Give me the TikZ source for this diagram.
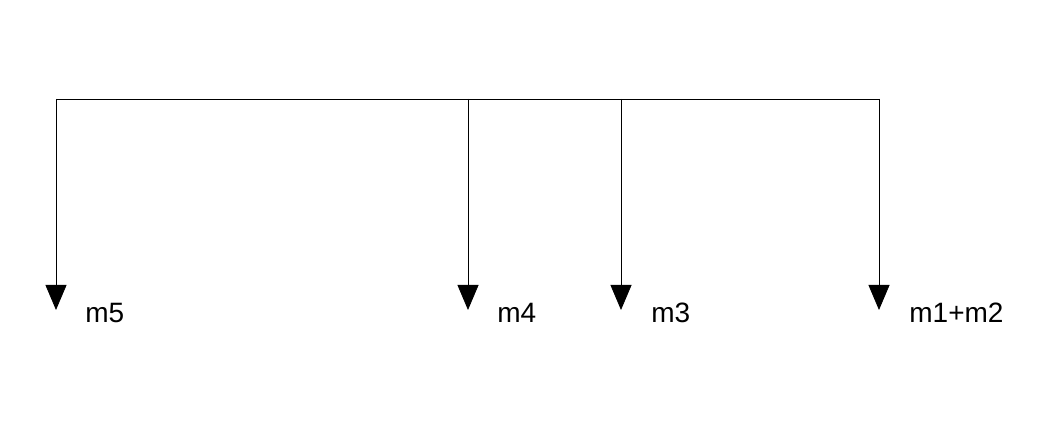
\documentclass[tikz,border=0pt]{standalone}
\usepackage{fontspec}
\setmainfont{Liberation Sans}
\usetikzlibrary{arrows.meta}

\begin{document}
\begin{tikzpicture}[x=1pt,y=-1pt,line width=0.8pt,
    >={Triangle[width=21pt,length=25pt]},
    lab/.style={anchor=base west,inner sep=0pt,font=\fontsize{28}{32}\selectfont}]
      \useasboundingbox (0,0) rectangle (1053,435);
      \coordinate (T5)  at (56,99);
      \coordinate (T4)  at (468,99);
      \coordinate (T3)  at (621,99);
      \coordinate (T12) at (879,99);
      \coordinate (H5)  at (56,310);
      \coordinate (H4)  at (468,310);
      \coordinate (H3)  at (621,310);
      \coordinate (H12) at (879,310);
      \node[lab] (M5)  at (85,323)  {m5};
      \node[lab] (M4)  at (497,323) {m4};
      \node[lab] (M3)  at (651,323) {m3};
      \node[lab] (M12) at (909,323) {m1+m2};
      \draw (T5) -- (T12);
      \draw[->] (T5)  -- (H5);
      \draw[->] (T4)  -- (H4);
      \draw[->] (T3)  -- (H3);
      \draw[->] (T12) -- (H12);
    \end{tikzpicture}
\end{document}
